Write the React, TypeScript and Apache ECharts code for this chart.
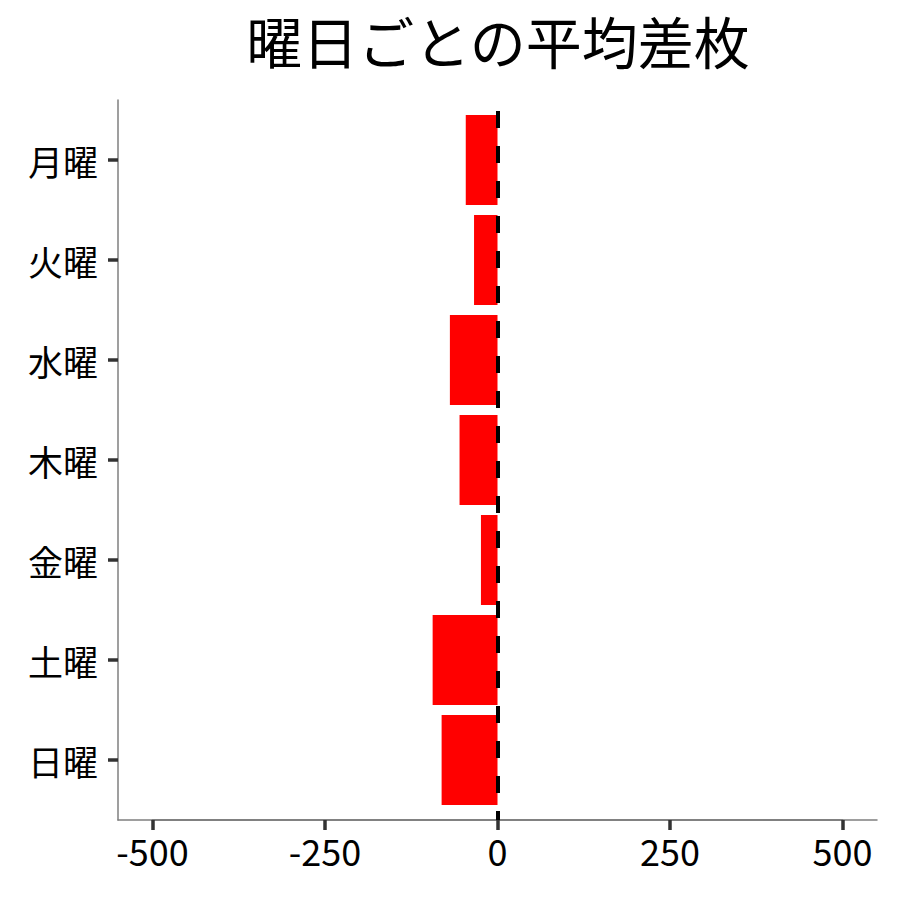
import React, { useEffect, useRef } from "react";
import * as echarts from "echarts";

const titleText = "曜日ごとの平均差枚";
const days = ["月曜", "火曜", "水曜", "木曜", "金曜", "土曜", "日曜"];
const avgDiff = [-46, -34, -69, -55, -24, -94, -81];
const xTickLabels = ["-500", "-250", "0", "250", "500"];
const FONT = "'Noto Sans CJK JP', 'Noto Sans', sans-serif";

export default function App() {
  const ref = useRef<HTMLDivElement>(null);
  useEffect(() => {
    document.body.style.margin = "0";
    const chart = echarts.init(ref.current!, null, { renderer: "svg" });
    chart.setOption({
      animation: false,
      backgroundColor: "#ffffff",
      textStyle: { fontFamily: FONT },
      title: {
        text: titleText,
        left: 493,
        top: 6,
        textAlign: "center",
        textStyle: { fontFamily: FONT, fontSize: 56, fontWeight: "normal", color: "#000" },
      },
      grid: [
        { left: 118, right: 23, top: 110, bottom: 90 },
        { left: 118, right: 23, top: 100, bottom: 80 },
        { left: 152.5, right: 57.5, top: 100, bottom: 80 },
        { left: 152.5, right: 57.5, top: 820, bottom: 70 },
      ],
      xAxis: [
        { gridIndex: 0, type: "value", min: -550, max: 550, show: false },
        {
          gridIndex: 1,
          type: "value",
          min: -550,
          max: 550,
          splitLine: { show: false },
          axisLine: { show: true, onZero: false, lineStyle: { color: "#7f7f7f", width: 1.5 } },
          axisTick: { show: false },
          axisLabel: { show: false },
        },
        {
          gridIndex: 2,
          type: "category",
          data: xTickLabels,
          boundaryGap: false,
          splitLine: { show: false },
          axisLine: { show: true, onZero: false, lineStyle: { color: "#7f7f7f", width: 1.5 } },
          axisTick: { show: false },
          axisLabel: { fontSize: 36, color: "#000", margin: 12, fontFamily: FONT, interval: 0 },
        },
        {
          gridIndex: 3,
          type: "category",
          data: xTickLabels,
          boundaryGap: false,
          position: "top",
          splitLine: { show: false },
          axisLine: { show: true, onZero: false, lineStyle: { color: "#7f7f7f", width: 1.5 } },
          axisTick: { show: true, inside: true, length: 10, lineStyle: { color: "#333333", width: 3.5 } },
          axisLabel: { show: false },
        },
      ],
      yAxis: [
        {
          gridIndex: 0,
          type: "category",
          data: days,
          inverse: true,
          axisLine: { show: false, onZero: false },
          axisTick: {
            show: true,
            alignWithLabel: true,
            length: 10,
            lineStyle: { color: "#333333", width: 3.5 },
          },
          axisLabel: { fontSize: 35, color: "#000", margin: 20, fontFamily: FONT },
          splitLine: { show: false },
        },
        {
          gridIndex: 1,
          type: "value",
          min: 0,
          max: 1,
          axisLine: { show: true, onZero: false, lineStyle: { color: "#7f7f7f", width: 1.5 } },
          axisTick: { show: false },
          axisLabel: { show: false },
          splitLine: { show: false },
        },
        { gridIndex: 2, type: "value", min: 0, max: 1, show: false },
        { gridIndex: 3, type: "value", min: 0, max: 1, show: false },
      ],
      series: [
        {
          type: "bar",
          xAxisIndex: 0,
          yAxisIndex: 0,
          data: avgDiff,
          barCategoryGap: "10%",
          itemStyle: { color: "#ff0000" },
          z: 2,
        },
        {
          type: "scatter",
          xAxisIndex: 1,
          yAxisIndex: 1,
          data: [],
          z: 5,
          markLine: {
            silent: true,
            symbol: "none",
            label: { show: false },
            lineStyle: { color: "#000", width: 4, type: [17, 18], dashOffset: 8 },
            data: [{ xAxis: 0 }],
            z: 5,
          },
        },
      ],
    });
    return () => chart.dispose();
  }, []);
  return <div ref={ref} style={{ width: 900, height: 900 }} />;
}
